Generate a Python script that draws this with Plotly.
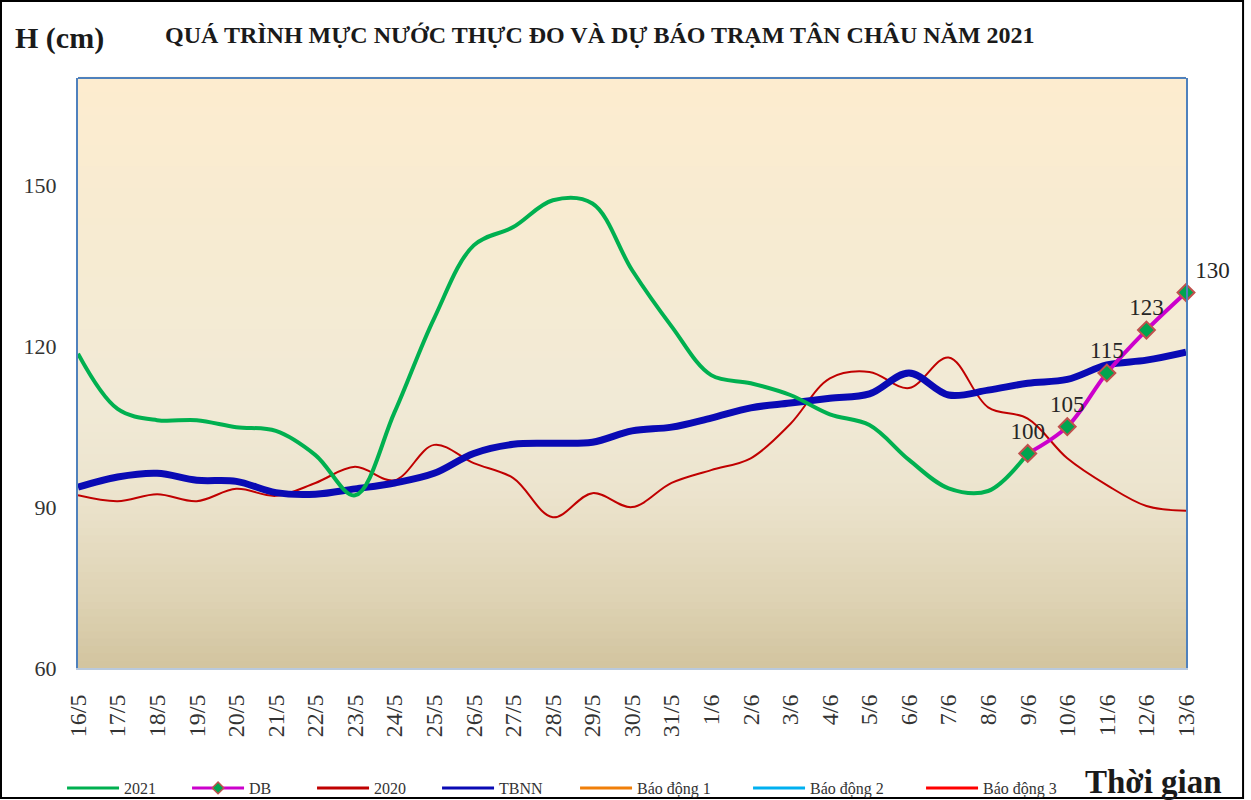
import plotly.graph_objects as go

# ---------------- data ----------------
dates = ["16/5", "17/5", "18/5", "19/5", "20/5", "21/5", "22/5", "23/5", "24/5", "25/5",
         "26/5", "27/5", "28/5", "29/5", "30/5", "31/5", "1/6", "2/6", "3/6", "4/6",
         "5/6", "6/6", "7/6", "8/6", "9/6", "10/6", "11/6", "12/6", "13/6"]

h2021 = [118.6, 108.3, 106.2, 106.2, 104.9, 104.2, 99.7, 92.2, 107.7, 125.2,
         138.8, 142.2, 147.2, 146.6, 134.2, 123.7, 114.6, 113.1, 110.9, 107.3,
         105.3, 98.8, 93.5, 93.0, 100.0, None, None, None, None]

db = [None] * 24 + [100, 105, 115, 123, 130]

h2020 = [92.2, 91.1, 92.4, 91.1, 93.4, 92.1, 94.5, 97.5, 95.0, 101.6,
         98.2, 95.4, 88.1, 92.6, 90.0, 94.5, 96.9, 99.1, 105.5, 114.0,
         115.2, 112.2, 117.9, 108.6, 106.5, 99.1, 94.1, 90.2, 89.3]

tbnn = [93.7, 95.6, 96.3, 95.0, 94.8, 92.7, 92.4, 93.4, 94.5, 96.3,
        100.0, 101.7, 101.9, 102.1, 104.2, 104.9, 106.6, 108.5, 109.4, 110.3,
        111.1, 115.0, 110.9, 111.8, 113.1, 113.8, 116.5, 117.4, 118.9]

yticks = [60, 90, 120, 150]

series_names = ["2021", "DB", "2020", "TBNN"]
series_colors = ["#00B050", "#CC00CC", "#C00000", "#0A0AB4"]
alarm_names = ["Báo động 1", "Báo động 2", "Báo động 3"]
alarm_colors = ["#F07F09", "#00B0F0", "#FF0000"]

FONT = "Liberation Serif"

fig = go.Figure()

spl = dict(shape="spline", smoothing=1)

fig.add_trace(go.Scatter(x=dates, y=h2020, mode="lines", name="2020", showlegend=False,
                         line=dict(color=series_colors[2], width=2, **spl)))
fig.add_trace(go.Scatter(x=dates, y=tbnn, mode="lines", name="TBNN", showlegend=False,
                         line=dict(color=series_colors[3], width=7, **spl)))
fig.add_trace(go.Scatter(x=dates, y=h2021, mode="lines", name="2021", showlegend=False,
                         line=dict(color=series_colors[0], width=4, **spl)))
db_text = [None if v is None else str(v) for v in db]
db_pos = ["top center"] * 28 + ["top right"]
fig.add_trace(go.Scatter(x=dates, y=db, mode="lines+markers+text", name="DB", showlegend=False,
                         line=dict(color=series_colors[1], width=4, **spl),
                         marker=dict(symbol="diamond", size=13, color="#00A550",
                                     line=dict(color="#C0504D", width=2)),
                         text=db_text, textposition=db_pos, cliponaxis=False,
                         textfont=dict(family=FONT, size=23, color="#262626")))

# legend entries (uniform line weight as in the original legend)
for nm, col in zip(series_names, series_colors):
    if nm == "DB":
        fig.add_trace(go.Scatter(x=[None], y=[None], mode="lines+markers", name=nm,
                                 line=dict(color=col, width=3),
                                 marker=dict(symbol="diamond", size=9, color="#00A550",
                                             line=dict(color="#C0504D", width=1.5)),
                                 legend="legend"))
    else:
        fig.add_trace(go.Scatter(x=[None], y=[None], mode="lines", name=nm,
                                 line=dict(color=col, width=3), legend="legend"))
for nm, col in zip(alarm_names, alarm_colors):
    fig.add_trace(go.Scatter(x=[None], y=[None], mode="lines", name=nm,
                             line=dict(color=col, width=3), legend="legend2"))

# ---------------- background gradient ----------------
stops = [(0.0, (0xD2, 0xC4, 0x9F)), (0.12, (0xDE, 0xD3, 0xB4)), (0.3, (0xEC, 0xE4, 0xCE)),
         (0.45, (0xF1, 0xEA, 0xD6)), (0.7, (0xF6, 0xEB, 0xD2)), (1.0, (0xFD, 0xEC, 0xCF))]


def col_at(t):
    for (t0, c0), (t1, c1) in zip(stops[:-1], stops[1:]):
        if t0 <= t <= t1:
            f = (t - t0) / (t1 - t0)
            return "rgb(%d,%d,%d)" % tuple(round(a + (b - a) * f) for a, b in zip(c0, c1))
    return "rgb(%d,%d,%d)" % stops[-1][1]


shapes = []
N = 80
for k in range(N):
    shapes.append(dict(type="rect", xref="paper", yref="paper", x0=0, x1=1,
                       y0=k / N, y1=(k + 1) / N + 0.002, layer="below",
                       line=dict(width=0), fillcolor=col_at((k + 0.5) / N)))
# top border of plot area
shapes.append(dict(type="line", xref="paper", yref="paper", x0=0, x1=1, y0=1, y1=1,
                   line=dict(color="#4F81BD", width=2)))
# outer frame
shapes.append(dict(type="rect", xref="paper", yref="paper", x0=-0.0695, x1=1.0515,
                   y0=-0.2203, y1=1.1305, line=dict(color="black", width=2)))

annotations = [
    dict(text="<b>QUÁ TRÌNH MỰC NƯỚC THỰC ĐO VÀ DỰ BÁO TRẠM TÂN CHÂU NĂM 2021</b>",
         xref="paper", yref="paper", x=0.471, y=1.073, showarrow=False,
         font=dict(family=FONT, size=24, color="#1a1a1a"), xanchor="center", yanchor="middle"),
    dict(text="<b>H (cm)</b>", xref="paper", yref="paper", x=-0.017, y=1.068, showarrow=False,
         font=dict(family=FONT, size=30, color="#1a1a1a"), xanchor="center", yanchor="middle"),
    dict(text="<b>Thời gian</b>", xref="paper", yref="paper", x=0.971, y=-0.193, showarrow=False,
         font=dict(family=FONT, size=33, color="#1a1a1a"), xanchor="center", yanchor="middle"),
]

fig.update_layout(
    width=1251, height=800,
    margin=dict(l=78, r=65, t=78, b=132, autoexpand=False),
    paper_bgcolor="white", plot_bgcolor="rgba(0,0,0,0)",
    font=dict(family=FONT, color="#333333"),
    shapes=shapes, annotations=annotations,
    legend=dict(orientation="h", x=-0.0144, y=-0.2034, xanchor="left", yanchor="middle",
                entrywidthmode="pixels", entrywidth=58, itemwidth=52,
                font=dict(family=FONT, size=16, color="#333333"),
                bgcolor="rgba(0,0,0,0)", traceorder="normal"),
    legend2=dict(orientation="h", x=0.4486, y=-0.2034, xanchor="left", yanchor="middle",
                 entrywidthmode="pixels", entrywidth=106, itemwidth=52,
                 font=dict(family=FONT, size=16, color="#333333"),
                 bgcolor="rgba(0,0,0,0)", traceorder="normal"),
    showlegend=True,
)

fig.update_xaxes(type="category", range=[0, len(dates) - 1], tickangle=-90,
                 tickfont=dict(family=FONT, size=24, color="#333333"),
                 showgrid=False, zeroline=False, showline=True, linecolor="#B9C9DD",
                 linewidth=2, ticks="", ticklabelstandoff=15, automargin=False)
fig.update_yaxes(range=[60, 170], tickvals=yticks,
                 tickfont=dict(family=FONT, size=22, color="#333333"),
                 showgrid=False, zeroline=False, showline=True, mirror=True,
                 linecolor="#4F81BD", linewidth=2, ticks="", ticklabelstandoff=15,
                 automargin=False)

fig.write_html("out.html", config={"displayModeBar": False},
               post_script="document.body.style.margin='0px';document.body.style.overflow='hidden';")
